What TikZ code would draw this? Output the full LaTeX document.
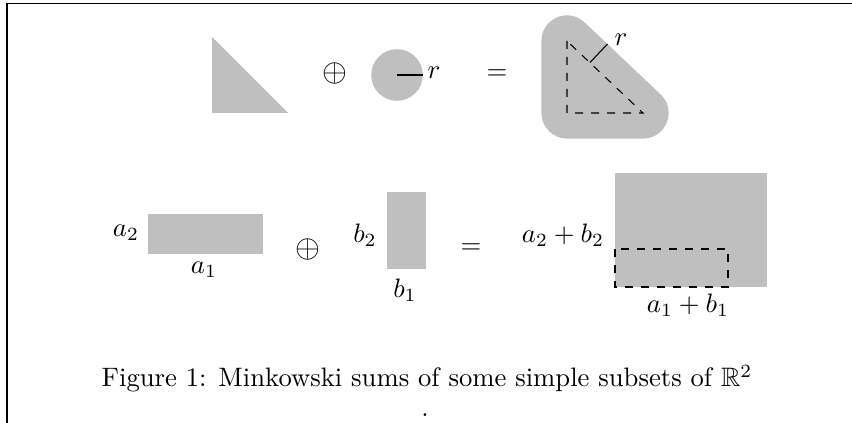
\documentclass[tikz,border=0pt]{standalone}
\usepackage{amssymb}
\definecolor{shapegray}{gray}{0.75}
\tikzset{
  frameline/.style={line width=0.6pt},
  region/.style={fill=shapegray},
  outline/.style={dashed},
  lbl/.style={inner sep=0pt},
  opsign/.style={inner sep=0pt,font=\large}
}
\begin{document}
\begin{tikzpicture}[x=0.375pt,y=-0.375pt]
\useasboundingbox (0,0) rectangle (852,423);
\draw[frameline] (852,3.5) -- (7,3.5) -- (7,423);
% row 1
\fill[region] (212,37) -- (212,113) -- (288,113) -- cycle;
\node[opsign] (op1) at (335,74) {$\oplus$};
\fill[region] (397,75) circle (25.8);
\coordinate (cc) at (397,75);
\coordinate (ce) at (422.8,75);
\draw (cc) -- (ce);
\node[lbl] (r1) at (434,73) {$r$};
\node[lbl] (eq1) at (497,75) {$=$};
\draw[shapegray,line width=19.2pt,line join=round] (567,41) -- (567,113) -- (643,113) -- cycle;
\fill[region] (567,41) -- (567,113) -- (643,113) -- cycle;
\draw[outline] (567,41) -- (567,113) -- (643,113) -- cycle;
\coordinate (rs) at (590,62.5);
\coordinate (re) at (607.5,44);
\draw (rs) -- (re);
\node[lbl] (r2) at (621,40) {$r$};
% row 2
\fill[region] (148,214) rectangle (263,254);
\node[lbl] (a2) at (126,233) {$a_2$};
\node[lbl] (a1) at (204,270) {$a_1$};
\node[opsign] (op2) at (308,250) {$\oplus$};
\fill[region] (387,192) rectangle (426,269);
\node[lbl] (b2) at (365,235) {$b_2$};
\node[lbl] (b1) at (405,290) {$b_1$};
\node[lbl] (eq2) at (471,249) {$=$};
\fill[region] (615,173) rectangle (767,287);
\draw[outline] (615,249) rectangle (728,287);
\node[lbl] (ab2) at (563,235) {$a_2+b_2$};
\node[lbl] (ab1) at (688,305) {$a_1+b_1$};
% caption
\node[lbl,anchor=base] (cap) at (427,387) {Figure 1: Minkowski sums of some simple subsets of $\mathbb{R}^2$};
\node[lbl,anchor=base] (dot) at (425,417) {.};
\end{tikzpicture}
\end{document}
